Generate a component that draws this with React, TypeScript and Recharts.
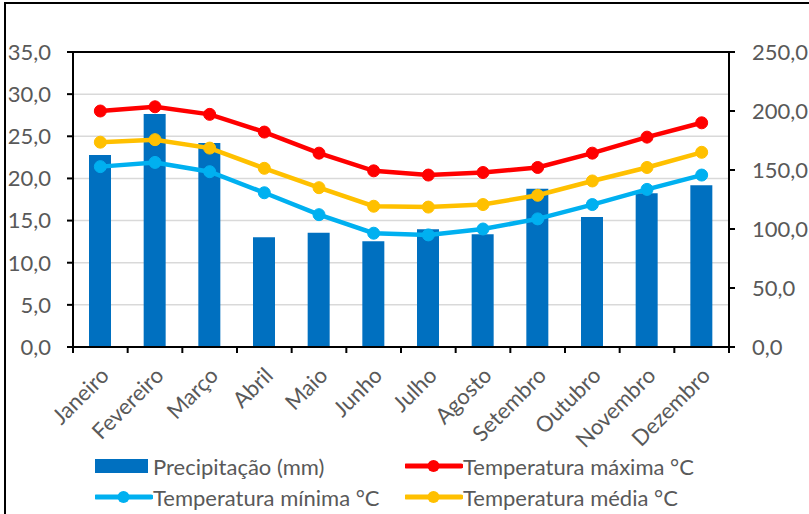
import React from "react";
import {
  ComposedChart,
  Bar,
  Line,
  XAxis,
  YAxis,
  CartesianGrid,
  ReferenceLine,
  Legend,
} from "recharts";

const months = [
  "Janeiro",
  "Fevereiro",
  "Março",
  "Abril",
  "Maio",
  "Junho",
  "Julho",
  "Agosto",
  "Setembro",
  "Outubro",
  "Novembro",
  "Dezembro",
];

// precipitation in mm (right axis)
const precipitation = [162.7, 197.5, 172.9, 93.0, 96.9, 89.6, 99.7, 95.5, 134.2, 110.2, 130.2, 137.0];

// temperatures in °C (left axis)
const tempMax = [28.0, 28.5, 27.6, 25.5, 23.0, 20.9, 20.4, 20.7, 21.3, 23.0, 24.9, 26.6];
const tempMin = [21.4, 21.9, 20.8, 18.3, 15.7, 13.5, 13.3, 14.0, 15.2, 16.9, 18.7, 20.4];
const tempAvg = [24.3, 24.6, 23.6, 21.2, 18.9, 16.7, 16.6, 16.9, 18.0, 19.7, 21.3, 23.1];

const leftTicks = [0, 5, 10, 15, 20, 25, 30, 35];
const rightTicks = [0, 50, 100, 150, 200, 250];

const data = months.map((month, i) => ({
  month,
  precipitation: precipitation[i],
  tempMax: tempMax[i],
  tempMin: tempMin[i],
  tempAvg: tempAvg[i],
}));

const FONT = "Lato, 'Open Sans', sans-serif";
const TEXT = "#595959";

const fmt = (v: number) => v.toFixed(1).replace(".", ",");

const legendItems = [
  { label: "Precipitação (mm)", color: "#0070C0", kind: "bar" },
  { label: "Temperatura máxima °C", color: "#FF0000", kind: "line" },
  { label: "Temperatura mínima °C", color: "#00B0F0", kind: "line" },
  { label: "Temperatura média °C", color: "#FFC000", kind: "line" },
];

// month labels, rotated, plus tick marks on category boundaries
function MonthTick(props: any) {
  const { x, y, payload, index, visibleTicksCount } = props;
  const half = payload?.offset ?? 27.33;
  const ax = x + 10;
  const ay = y + 30;
  return (
    <g>
      <line x1={x - half} y1={y} x2={x - half} y2={y + 6} stroke="#000" strokeWidth={2} />
      {index === visibleTicksCount - 1 && (
        <line x1={x + half} y1={y} x2={x + half} y2={y + 6} stroke="#000" strokeWidth={2} />
      )}
      <text
        x={ax}
        y={ay}
        transform={`rotate(-45, ${ax}, ${ay})`}
        textAnchor="end"
        fill={TEXT}
        fontSize={22}
        fontFamily={FONT}
      >
        {payload.value}
      </text>
    </g>
  );
}

function LegendContent() {
  const cols = [95, 405];
  const rows = [466, 497];
  return (
    <div style={{ position: "relative", width: 809, height: 64 }}>
      {legendItems.map((item, i) => {
        const left = cols[i % 2];
        const top = rows[Math.floor(i / 2)] - 450 - 16;
        return (
          <div
            key={item.label}
            style={{
              position: "absolute",
              left,
              top,
              height: 32,
              display: "flex",
              alignItems: "center",
              whiteSpace: "nowrap",
            }}
          >
            <svg width={58} height={32} style={{ display: "block" }}>
              {item.kind === "bar" ? (
                <rect x={0} y={9} width={53} height={14} fill={item.color} />
              ) : (
                <g>
                  <line x1={1} y1={16} x2={56} y2={16} stroke={item.color} strokeWidth={5} strokeLinecap="round" />
                  <circle cx={28.5} cy={16} r={6} fill={item.color} />
                </g>
              )}
            </svg>
            <span style={{ fontFamily: FONT, fontSize: 22, color: TEXT }}>{item.label}</span>
          </div>
        );
      })}
    </div>
  );
}

export default function App() {
  return (
    <div style={{ position: "absolute", left: 0, top: 0, width: 809, height: 514, background: "#fff" }}>
      {/* frame around the figure */}
      <div style={{ position: "absolute", left: 4, top: 2, width: 2, height: 512, background: "#000" }} />
      <div style={{ position: "absolute", left: 4, top: 2, width: 805, height: 2, background: "#000" }} />
      <ComposedChart
        width={809}
        height={514}
        data={data}
        margin={{ top: 52, right: 0, bottom: 0, left: 0 }}
        barSize={22}
      >
        <CartesianGrid yAxisId="left" vertical={false} stroke="#D9D9D9" strokeWidth={1.5} />
        <XAxis
          dataKey="month"
          height={167}
          interval={0}
          axisLine={{ stroke: "#000", strokeWidth: 2 }}
          tickLine={false}
          tickSize={0}
          tickMargin={0}
          tick={<MonthTick />}
        />
        <YAxis
          yAxisId="left"
          orientation="left"
          width={73}
          domain={[0, 35]}
          ticks={leftTicks}
          tickFormatter={fmt}
          axisLine={{ stroke: "#000", strokeWidth: 2 }}
          tickLine={{ stroke: "#000", strokeWidth: 2 }}
          tickSize={6}
          tickMargin={16}
          tick={{ fill: TEXT, fontSize: 22, fontFamily: FONT }}
        />
        <YAxis
          yAxisId="right"
          orientation="right"
          width={80}
          domain={[0, 250]}
          ticks={rightTicks}
          tickFormatter={fmt}
          axisLine={{ stroke: "#000", strokeWidth: 2 }}
          tickLine={{ stroke: "#000", strokeWidth: 2 }}
          tickSize={6}
          tickMargin={17}
          tick={{ fill: TEXT, fontSize: 22, fontFamily: FONT, textAnchor: "start" }}
        />
        <ReferenceLine yAxisId="left" y={35} stroke="#000" strokeWidth={2} />
        <Bar
          yAxisId="right"
          dataKey="precipitation"
          name="Precipitação (mm)"
          fill="#0070C0"
          isAnimationActive={false}
        />
        <Line
          type="linear"
          yAxisId="left"
          dataKey="tempMax"
          name="Temperatura máxima °C"
          stroke="#FF0000"
          strokeWidth={4.5}
          dot={{ r: 6, fill: "#FF0000", stroke: "#FF0000", strokeWidth: 1 }}
          isAnimationActive={false}
        />
        <Line
          type="linear"
          yAxisId="left"
          dataKey="tempMin"
          name="Temperatura mínima °C"
          stroke="#00B0F0"
          strokeWidth={4.5}
          dot={{ r: 6, fill: "#00B0F0", stroke: "#00B0F0", strokeWidth: 1 }}
          isAnimationActive={false}
        />
        <Line
          type="linear"
          yAxisId="left"
          dataKey="tempAvg"
          name="Temperatura média °C"
          stroke="#FFC000"
          strokeWidth={4.5}
          dot={{ r: 6, fill: "#FFC000", stroke: "#FFC000", strokeWidth: 1 }}
          isAnimationActive={false}
        />
        <Legend
          layout="horizontal"
          verticalAlign="middle"
          align="center"
          wrapperStyle={{ left: 0, top: 450, width: 809, height: 64 }}
          content={<LegendContent />}
        />
      </ComposedChart>
    </div>
  );
}
